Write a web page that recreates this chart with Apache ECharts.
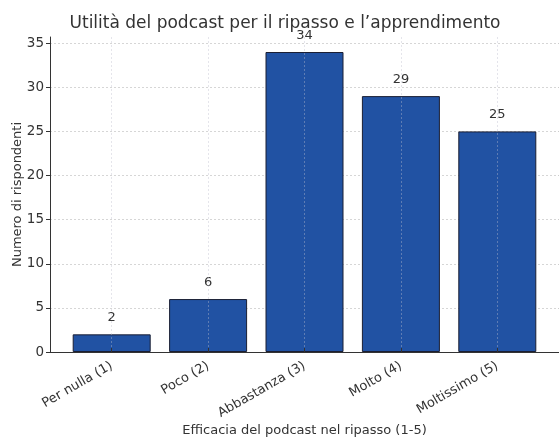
<!DOCTYPE html>
<html>
<head>
    <meta charset="utf-8" />
    <title>Utilità del podcast</title>
    <script src="https://cdn.jsdelivr.net/npm/echarts@6/dist/echarts.min.js"></script>
</head>
<body style="margin:0">
    <div id="main" style="width:559px;height:437px;"></div>
    <script type="text/javascript">
        var categories = ['Per nulla (1)', 'Poco (2)', 'Abbastanza (3)', 'Molto (4)', 'Moltissimo (5)'];
        var counts = [2, 6, 34, 29, 25];
        var yTicks = [0, 5, 10, 15, 20, 25, 30, 35];

        var positions = categories.map(function (c, i) { return i; });
        var barData = counts.map(function (v, i) { return [i, v]; });

        var chart = echarts.init(document.getElementById('main'));
        var textFont = 'DejaVu Sans';
        var option = {
            animation: false,
            textStyle: { fontFamily: textFont },
            title: {
                text: 'Utilità del podcast per il ripasso e l\u2019apprendimento',
                left: 280,
                top: 10,
                textAlign: 'center',
                textStyle: { fontFamily: textFont, fontSize: 17, fontWeight: 'normal', color: '#333' }
            },
            grid: { left: 50, right: 0, top: 37, bottom: 85, outerBoundsMode: 'none', containLabel: false },
            xAxis: {
                type: 'value',
                z: 3,
                min: -0.64,
                max: 4.64,
                name: 'Efficacia del podcast nel ripasso (1-5)',
                nameLocation: 'middle',
                nameGap: 72,
                nameMoveOverlap: false,
                nameTextStyle: { fontFamily: textFont, fontSize: 13, color: '#333' },
                axisLine: { show: true, onZero: false, lineStyle: { color: '#333', width: 1 } },
                axisTick: { show: true, customValues: positions, inside: true, length: 4, lineStyle: { color: '#333' } },
                axisLabel: {
                    customValues: positions,
                    rotate: 30,
                    fontSize: 13,
                    color: '#333',
                    margin: 13,
                    formatter: function (v) { return categories[Math.round(v)]; }
                },
                splitLine: { show: true, lineStyle: { color: 'rgba(190,190,205,0.5)', type: [2, 2], width: 0.8 } }
            },
            yAxis: {
                type: 'value',
                min: 0,
                max: 35.7,
                name: 'Numero di rispondenti',
                nameLocation: 'middle',
                nameGap: 26,
                nameMoveOverlap: false,
                nameTextStyle: { fontFamily: textFont, fontSize: 13, color: '#333' },
                axisLine: { show: true, onZero: false, lineStyle: { color: '#333', width: 1 } },
                axisTick: { show: true, customValues: yTicks, length: 4, lineStyle: { color: '#333' } },
                axisLabel: { customValues: yTicks, fontSize: 13.5, color: '#333', margin: 6 },
                splitLine: { show: true, lineStyle: { color: '#ccc', type: [2, 2], width: 0.8 } }
            },
            series: [{
                type: 'bar',
                data: barData,
                barWidth: 78,
                itemStyle: { color: '#2152a3', borderColor: '#1b1f33', borderWidth: 1 },
                label: { show: true, position: 'top', distance: 10, fontSize: 13, color: '#333',
                    formatter: function (p) { return p.value[1]; } }
            }]
        };
        chart.setOption(option);
    </script>
</body>
</html>
